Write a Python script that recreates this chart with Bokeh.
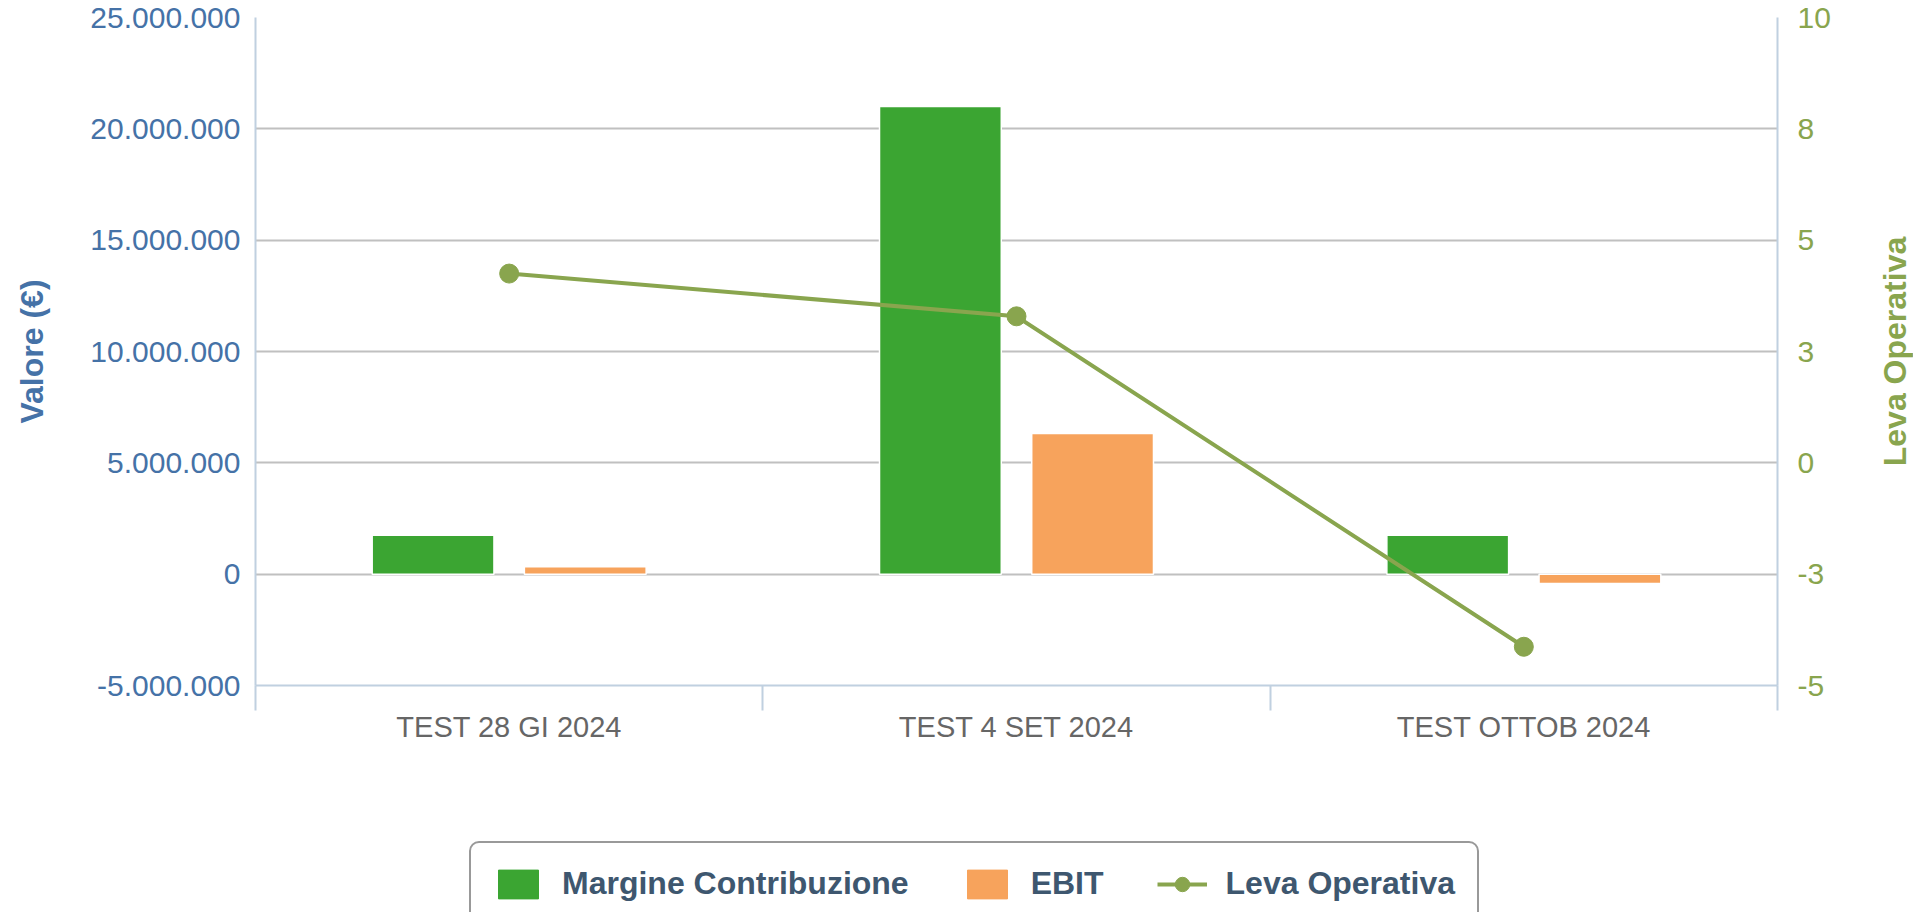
from bokeh.plotting import figure
from bokeh.layouts import column, row
from bokeh.models import Range1d, LinearAxis, FixedTicker, Legend, LegendItem, ColumnDataSource
from bokeh.transform import dodge
from bokeh.embed import file_html
from bokeh.resources import INLINE

# ---- data ----
categories = ["TEST 28 GI 2024", "TEST 4 SET 2024", "TEST OTTOB 2024"]
margine = [1750000, 21000000, 1750000]
ebit = [330000, 6320000, -420000]
leva = [4.25, 3.29, -4.13]
left_ticks = [-5000000, 0, 5000000, 10000000, 15000000, 20000000, 25000000]
left_labels = ["-5.000.000", "0", "5.000.000", "10.000.000", "15.000.000", "20.000.000", "25.000.000"]
right_ticks = [-5, -2.5, 0, 2.5, 5, 7.5, 10]
right_labels = ["-5", "-3", "0", "3", "5", "8", "10"]
series_names = ["Margine Contribuzione", "EBIT", "Leva Operativa"]

GREEN = "#3BA532"
ORANGE = "#F7A35C"
LINE = "#89A54E"
BLUE = "#4572A7"
AXIS = "#C0D0E0"
FONT = "Liberation Sans"

n = len(categories)
xc = [i + 0.5 for i in range(n)]
bounds = [float(i) for i in range(n + 1)]
src = ColumnDataSource(dict(x=xc, cat=categories, margine=margine, ebit=ebit, leva=leva))

WP, WT, H1, H2 = 1873, 40, 760, 152
WTOT = WP + WT

# ---------------- main chart ----------------
p = figure(width=WP, height=H1, output_backend="svg", toolbar_location=None,
           x_range=Range1d(0, n), y_range=Range1d(left_ticks[0], left_ticks[-1]),
           min_border_left=255, min_border_right=WP - 1777, min_border_top=17,
           min_border_bottom=H1 - 685)
p.outline_line_color = None
p.background_fill_color = "white"
p.border_fill_color = "white"
p.extra_y_ranges = {"leva": Range1d(right_ticks[0], right_ticks[-1])}

# x axis
xa = p.xaxis[0]
xa.ticker = FixedTicker(ticks=xc, minor_ticks=bounds)
xa.major_label_overrides = {x: c for x, c in zip(xc, categories)}
xa.major_tick_out = 0
xa.major_tick_in = 0
xa.minor_tick_out = 25
xa.minor_tick_in = 0
xa.minor_tick_line_color = AXIS
xa.minor_tick_line_width = 2
xa.axis_line_color = AXIS
xa.axis_line_width = 2
xa.major_label_standoff = 0
xa.major_label_text_font = FONT
xa.major_label_text_font_size = "29px"
xa.major_label_text_color = "#666666"
p.xgrid.grid_line_color = None

# left axis
ya = p.yaxis[0]
ya.ticker = FixedTicker(ticks=left_ticks)
ya.major_label_overrides = dict(zip(left_ticks, left_labels))
ya.major_tick_out = 0
ya.major_tick_in = 0
ya.minor_tick_line_color = None
ya.axis_line_color = AXIS
ya.axis_line_width = 2
ya.major_label_standoff = 15
ya.major_label_text_font = FONT
ya.major_label_text_font_size = "30px"
ya.major_label_text_color = BLUE
ya.axis_label = "Valore (€)"
ya.axis_label_text_font = FONT
ya.axis_label_text_font_style = "bold"
ya.axis_label_text_font_size = "32px"
ya.axis_label_text_color = BLUE
ya.axis_label_standoff = 37
p.ygrid.ticker = FixedTicker(ticks=left_ticks)
p.ygrid.grid_line_color = "#C0C0C0"
p.ygrid.grid_line_width = 2

# right axis (tick labels only)
yr = LinearAxis(y_range_name="leva", ticker=FixedTicker(ticks=right_ticks),
                major_label_overrides=dict(zip(right_ticks, right_labels)))
yr.major_tick_out = 0
yr.major_tick_in = 0
yr.minor_tick_line_color = None
yr.axis_line_color = AXIS
yr.axis_line_width = 2
yr.major_label_standoff = 20
yr.major_label_text_font = FONT
yr.major_label_text_font_size = "30px"
yr.major_label_text_color = LINE
p.add_layout(yr, "right")

# bars
p.vbar(x=dodge("x", -0.15), top="margine", bottom=0, width=0.24, source=src,
       fill_color=GREEN, line_color="white", line_width=1.5)
p.vbar(x=dodge("x", 0.15), top="ebit", bottom=0, width=0.24, source=src,
       fill_color=ORANGE, line_color="white", line_width=1.5)

# line
p.line("x", "leva", source=src, y_range_name="leva", line_color=LINE, line_width=4)
p.scatter("x", "leva", source=src, y_range_name="leva", size=19,
          fill_color=LINE, line_color=LINE)

# ---------------- right axis title strip ----------------
tf = figure(width=WT, height=H1, output_backend="svg", toolbar_location=None,
            x_range=Range1d(0, 1), y_range=Range1d(right_ticks[0], right_ticks[-1]),
            x_axis_type=None, min_border_left=0, min_border_right=0,
            min_border_top=17, min_border_bottom=H1 - 685)
tf.outline_line_color = None
tf.grid.grid_line_color = None
ta = tf.yaxis[0]
ta.ticker = FixedTicker(ticks=[])
ta.axis_line_color = None
ta.major_tick_out = 0
ta.major_tick_in = 0
ta.minor_tick_line_color = None
ta.major_label_standoff = 0
ta.axis_label = series_names[2]
ta.axis_label_standoff = 0
ta.axis_label_text_font = FONT
ta.axis_label_text_font_style = "bold"
ta.axis_label_text_font_size = "32px"
ta.axis_label_text_color = LINE

# ---------------- legend strip ----------------
# ranges chosen far away from all data so the legend's proxy glyphs stay invisible
lf = figure(width=WTOT, height=H2, output_backend="svg", toolbar_location=None,
            x_range=Range1d(1e9, 1e9 + 1), y_range=Range1d(1e9, 1e9 + 1),
            x_axis_type=None, y_axis_type=None,
            min_border_left=255, min_border_right=0, min_border_top=0, min_border_bottom=0)
lf.outline_line_color = None
lf.grid.grid_line_color = None
lg = lf.vbar(x="x", top="margine", width=0.24, source=src, fill_color=GREEN, line_color=GREEN)
lo = lf.vbar(x="x", top="ebit", width=0.24, source=src, fill_color=ORANGE, line_color=ORANGE)
ll = lf.line(x="x", y="leva", source=src, line_color=LINE, line_width=4)
ls = lf.scatter(x="x", y="leva", source=src, size=21, fill_color=LINE, line_color=LINE)

legend = Legend(items=[LegendItem(label=series_names[0], renderers=[lg]),
                       LegendItem(label=series_names[1], renderers=[lo]),
                       LegendItem(label=series_names[2], renderers=[ll, ls])],
                orientation="horizontal", location=(214, -14),
                glyph_width=50, glyph_height=36, label_standoff=19, spacing=53, padding=22,
                label_text_font=FONT, label_text_font_style="bold", label_text_font_size="32px",
                label_text_color="#3E576F", border_line_color="#999999", border_line_width=2,
                border_line_alpha=1.0, background_fill_alpha=0)
try:
    legend.border_radius = 10
except Exception:
    pass
lf.add_layout(legend, "center")

layout = column(row(p, tf, spacing=0), lf, spacing=0)
open("out.html", "w").write(file_html(layout, INLINE))
